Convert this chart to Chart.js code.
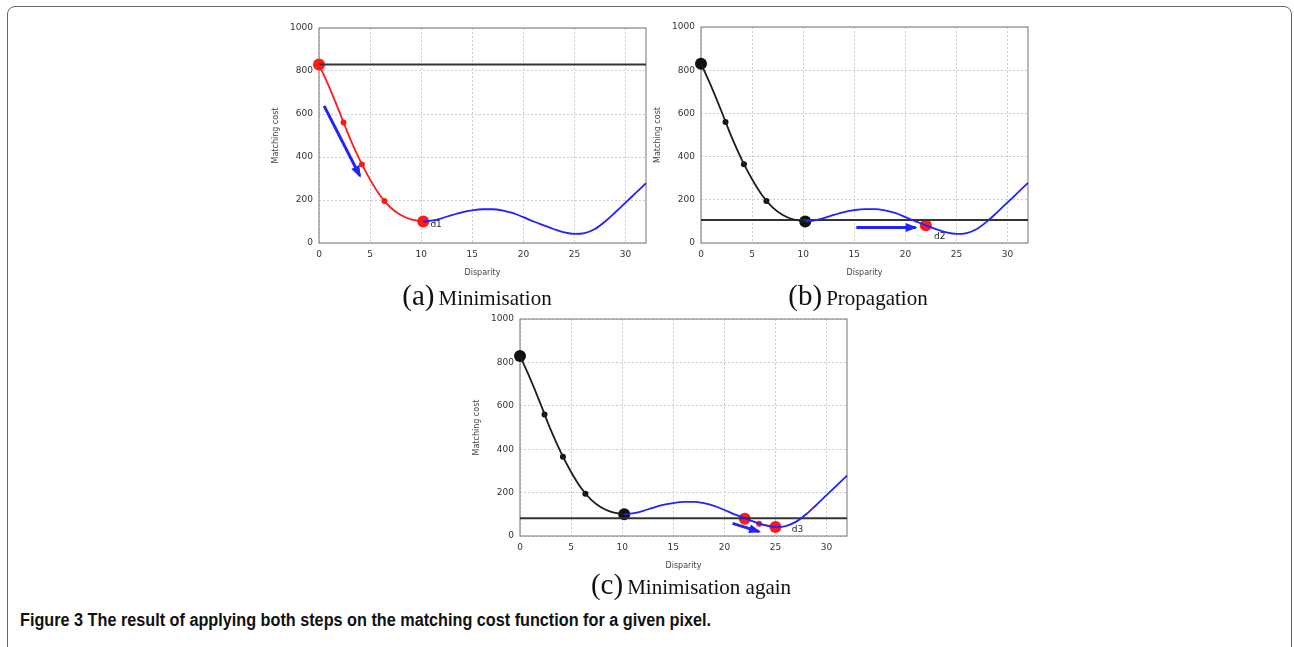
<!DOCTYPE html>
<html>
<head>
<meta charset="utf-8">
<script src="https://cdn.jsdelivr.net/npm/chart.js@4/dist/chart.umd.min.js"></script>
<style>
  body { margin: 0; background: #fff; width: 1294px; height: 647px; overflow: hidden; position: relative; }
  #frame { position: absolute; left: 7px; top: 6px; width: 1283px; height: 720px; border: 1.5px solid #666; border-radius: 8px; }
  canvas { position: absolute; }
  .sub { position: absolute; width: 300px; text-align: center; font-family: "Liberation Serif", "Times New Roman", serif; color: #111; line-height: 30px; white-space: nowrap; }
  .sub .tag { font-size: 29px; }
  .sub .word { font-size: 21px; }
  #caption { position: absolute; left: 20px; top: 610px; font-family: "Liberation Sans", Arial, sans-serif; font-weight: bold; font-size: 18px; color: #111; white-space: nowrap; transform-origin: 0 0; }
</style>
</head>
<body>
<div id="frame"></div>
<canvas id="chartA" width="392" height="271" style="left:262px; top:16px"></canvas>
<canvas id="chartB" width="392" height="272" style="left:644px; top:15px"></canvas>
<canvas id="chartC" width="392" height="273" style="left:463px; top:307px"></canvas>
<div class="sub" style="left:327px; top:280px"><span class="tag">(a)</span> <span class="word">Minimisation</span></div>
<div class="sub" style="left:708px; top:280px"><span class="tag">(b)</span> <span class="word">Propagation</span></div>
<div class="sub" style="left:541px; top:569px"><span class="tag">(c)</span> <span class="word">Minimisation again</span></div>
<div id="caption">Figure 3 The result of applying both steps on the matching cost function for a given pixel.</div>
<script>
// matching cost curve
var disparity = [0, 1, 2, 3, 4, 5, 6, 7, 8, 9, 10.2, 11, 12, 13, 14, 15, 16, 17, 18, 19, 20, 21, 22, 23, 24, 25, 26, 27, 28, 29, 30, 31, 32];
var cost = [830, 725, 610, 490, 385, 295, 220, 165, 130, 110, 100, 104, 115, 130, 143, 152, 157, 157, 151, 139, 120, 100, 82, 64, 49, 42, 46, 65, 100, 143, 188, 233, 278];
var splitIndex = 10; // d1 sits at disparity 10.2

// markers on the curve
var bigX = [0, 10.2];
var bigY = [830, 100];
var smallX = [2.4, 4.2, 6.4];
var smallY = [560, 365, 195];

// horizontal cost levels for (a), (b), (c)
var levels = [830, 106, 82];

// propagated candidate (b) and second minimisation (c)
var d2X = [22];
var d2Y = [82];
var d3X = [22, 23.4, 25];
var d3Y = [80, 57, 42];
var d3BigX = [22, 25];
var d3BigY = [80, 42];

// arrows
var arrowAX = [0.5, 4.0];
var arrowAY = [638, 312];
var arrowBX = [15.2, 21.0];
var arrowBY = [72, 72];
var arrowCX = [20.8, 23.4];
var arrowCY = [58, 20];

var xTicks = [0, 5, 10, 15, 20, 25, 30];
var yTicks = [0, 200, 400, 600, 800, 1000];

var RED = "#ff1a1a";
var BLUE = "#2222ff";
var DARK = "#1c1c2a";

// squeeze the figure caption to the width it has in the paper
var caption = document.getElementById("caption");
caption.style.transform = "scaleX(" + (691 / caption.offsetWidth) + ")";

function pts(xs, ys) {
    return xs.map((x, i) => ({x: x, y: ys[i]}));
}

function lineSet(data, color, width) {
    return {type: "line", data: data, borderColor: color, backgroundColor: color, borderWidth: width,
        pointRadius: 0, showLine: true, fill: false, clip: false, cubicInterpolationMode: "monotone"};
}

function markerSet(data, color, radius) {
    return {type: "scatter", data: data, borderColor: color, backgroundColor: color, borderWidth: 0,
        pointRadius: radius, showLine: false, clip: false};
}

function arrowSet(xs, ys) {
    var ds = lineSet(pts(xs, ys), BLUE, 3);
    ds.cubicInterpolationMode = "default";
    ds.tension = 0;
    ds.arrow = true;
    return ds;
}

// gnuplot-like box round the plot area
var boxPlugin = {
    id: "box",
    beforeDatasetsDraw(chart) {
        var a = chart.chartArea, ctx = chart.ctx;
        ctx.save();
        ctx.strokeStyle = "#8a8a8a";
        ctx.lineWidth = 1.2;
        ctx.strokeRect(a.left, a.top, a.right - a.left, a.bottom - a.top);
        ctx.restore();
    }
};

var arrowPlugin = {
    id: "arrowHeads",
    afterDatasetsDraw(chart) {
        var ctx = chart.ctx;
        chart.data.datasets.forEach((ds, i) => {
            if (!ds.arrow) return;
            var els = chart.getDatasetMeta(i).data;
            var p0 = els[els.length - 2], p1 = els[els.length - 1];
            var ang = Math.atan2(p1.y - p0.y, p1.x - p0.x);
            var len = 10, half = 4.5;
            ctx.save();
            ctx.fillStyle = ds.borderColor;
            ctx.translate(p1.x, p1.y);
            ctx.rotate(ang);
            ctx.beginPath();
            ctx.moveTo(2, 0);
            ctx.lineTo(-len, -half);
            ctx.lineTo(-len, half);
            ctx.closePath();
            ctx.fill();
            ctx.restore();
        });
    }
};

var labelPlugin = {
    id: "pointLabels",
    afterDatasetsDraw(chart, args, opts) {
        var ctx = chart.ctx;
        (opts.items || []).forEach((it) => {
            ctx.save();
            ctx.font = "9px 'DejaVu Sans'";
            ctx.fillStyle = "#222";
            ctx.textBaseline = "middle";
            ctx.textAlign = "left";
            ctx.fillText(it.text, chart.scales.x.getPixelForValue(it.x), chart.scales.y.getPixelForValue(it.y));
            ctx.restore();
        });
    }
};

function makeOptions(labels) {
    return {
        responsive: false,
        animation: false,
        layout: {padding: {left: 0, top: 12, right: 8, bottom: 0}},
        plugins: {legend: {display: false}, tooltip: {enabled: false}, pointLabels: {items: labels}},
        scales: {
            x: {
                type: "linear", min: 0, max: 32,
                afterFit: (s) => { s.height = 44; },
                afterBuildTicks: (s) => { s.ticks = xTicks.map(v => ({value: v})); },
                ticks: {font: {family: "DejaVu Sans", size: 9}, color: "#333", padding: 6, maxRotation: 0,
                    callback: (v) => String(v)},
                grid: {color: "#cdcdcd", lineWidth: 1, drawTicks: false},
                border: {display: false, dash: [2, 2]},
                title: {display: true, text: "Disparity", font: {family: "DejaVu Sans", size: 8}, color: "#444", padding: {top: 0, bottom: 9}}
            },
            y: {
                type: "linear", min: 0, max: 1000,
                afterFit: (s) => { s.width = 57; },
                afterBuildTicks: (s) => { s.ticks = yTicks.map(v => ({value: v})); },
                ticks: {font: {family: "DejaVu Sans", size: 9}, color: "#333", padding: 6,
                    callback: (v) => String(v)},
                grid: {color: "#cdcdcd", lineWidth: 1, drawTicks: false},
                border: {display: false, dash: [2, 2]},
                title: {display: true, text: "Matching cost", font: {family: "DejaVu Sans", size: 8}, color: "#444", padding: {top: 9, bottom: 0}}
            }
        }
    };
}

var curve = pts(disparity, cost);
var headPart = curve.slice(0, splitIndex + 1);
var tailPart = curve.slice(splitIndex);

// (a) Minimisation
new Chart("chartA", {
    data: {datasets: [
        lineSet(tailPart, BLUE, 1.8),
        lineSet(headPart, RED, 1.8),
        lineSet([{x: 0, y: levels[0]}, {x: 32, y: levels[0]}], "#333", 2),
        arrowSet(arrowAX, arrowAY),
        markerSet(pts(smallX, smallY), RED, 3),
        markerSet(pts(bigX, bigY), RED, 6)
    ]},
    options: makeOptions([{x: 10.9, y: 85, text: "d1"}]),
    plugins: [boxPlugin, arrowPlugin, labelPlugin]
});

// (b) Propagation
new Chart("chartB", {
    data: {datasets: [
        lineSet(tailPart, BLUE, 1.8),
        lineSet(headPart, DARK, 1.8),
        lineSet([{x: 0, y: levels[1]}, {x: 32, y: levels[1]}], "#333", 2),
        arrowSet(arrowBX, arrowBY),
        markerSet(pts(smallX, smallY), "#111", 3),
        markerSet(pts(bigX, bigY), "#111", 6),
        markerSet(pts(d2X, d2Y), RED, 6)
    ]},
    options: makeOptions([{x: 22.8, y: 30, text: "d2"}]),
    plugins: [boxPlugin, arrowPlugin, labelPlugin]
});

// (c) Minimisation again
var d3Line = lineSet(pts(d3X, d3Y), RED, 1.5);
d3Line.cubicInterpolationMode = "default";
d3Line.tension = 0;
new Chart("chartC", {
    data: {datasets: [
        lineSet(tailPart, BLUE, 1.8),
        lineSet(headPart, DARK, 1.8),
        lineSet([{x: 0, y: levels[2]}, {x: 32, y: levels[2]}], "#333", 2),
        arrowSet(arrowCX, arrowCY),
        markerSet(pts(smallX, smallY), "#111", 3),
        markerSet(pts(bigX, bigY), "#111", 6),
        d3Line,
        markerSet(pts([d3X[1]], [d3Y[1]]), RED, 3),
        markerSet(pts(d3BigX, d3BigY), RED, 6)
    ]},
    options: makeOptions([{x: 26.6, y: 29, text: "d3"}]),
    plugins: [boxPlugin, arrowPlugin, labelPlugin]
});
</script>
</body>
</html>
